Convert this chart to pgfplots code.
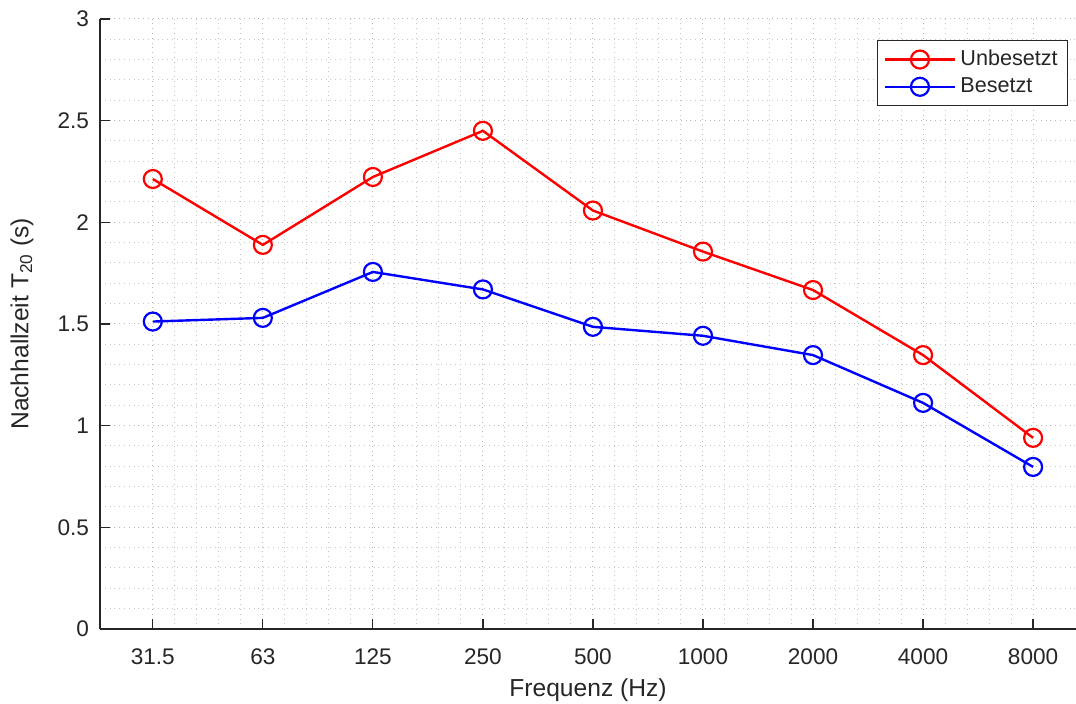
\documentclass[border=0pt]{standalone}
\usepackage{pgfplots}
\pgfplotsset{compat=1.18}
\usepackage{fontspec}
\setmainfont{Liberation Sans}
\definecolor{axgray}{RGB}{38,38,38}
\begin{document}
\begin{tikzpicture}
\path[use as bounding box] (-50pt,-37.5pt) rectangle (488pt,314.5pt);
\begin{axis}[
  scale only axis,
  width=488pt, height=305pt,
  at={(0,0)}, anchor=south west,
  xmin=0.52, xmax=9.39,
  ymin=0, ymax=3,
  xtick={1,...,9},
  xticklabels={31.5,63,125,250,500,1000,2000,4000,8000},
  ytick={0,0.5,...,3},
  yticklabels={0,0.5,1,1.5,2,2.5,3},
  minor x tick num=4, minor y tick num=4,
  xmajorgrids, ymajorgrids, xminorgrids, yminorgrids,
  major grid style={dotted, gray!55, line width=0.5pt},
  minor grid style={dotted, gray!45, line width=0.5pt},
  axis x line*=bottom, axis y line*=left,
  axis line style={axgray, line width=0.6pt, -},
  tick style={axgray, line width=0.6pt},
  major tick length=5pt, minor tick length=0pt,
  tick align=inside,
  ticklabel style={font=\fontsize{11.3}{13}\selectfont, text=axgray},
  xticklabel style={yshift=-6.5pt},
  yticklabel style={xshift=-2pt},
  /pgf/number format/assume math mode=true,
  xlabel={Frequenz (Hz)},
  ylabel={Nachhallzeit T\textsubscript{20} (s)},
  label style={font=\fontsize{12.3}{14}\selectfont, text=axgray},
  xlabel style={at={(axis description cs:0.5,0)}, yshift=-30.5pt, anchor=center},
  ylabel style={at={(axis description cs:0,0.5)}, yshift=39pt, anchor=center},
  legend style={at={(0.992,0.966)}, anchor=north east, draw=axgray, line width=0.5pt,
    font=\fontsize{10.8}{12}\selectfont, text=axgray, inner sep=3pt, row sep=0.5pt},
  legend cell align=left,
  legend image code/.code={\draw[mark repeat=2,mark phase=2,#1] plot coordinates {(0cm,0cm) (0.62cm,0cm) (1.24cm,0cm)};},
]
\addplot[color=red, line width=1.2pt, mark=o, mark size=4.5pt, mark options={line width=1.1pt}] coordinates {
(1,2.213) (2,1.889) (3,2.223) (4,2.450) (5,2.058) (6,1.856) (7,1.667) (8,1.347) (9,0.940)};
\addlegendentry{Unbesetzt}
\addplot[color=blue, line width=1.2pt, mark=o, mark size=4.5pt, mark options={line width=1.1pt}] coordinates {
(1,1.512) (2,1.530) (3,1.756) (4,1.670) (5,1.486) (6,1.442) (7,1.347) (8,1.112) (9,0.797)};
\addlegendentry{Besetzt}
\end{axis}
\end{tikzpicture}
\end{document}
